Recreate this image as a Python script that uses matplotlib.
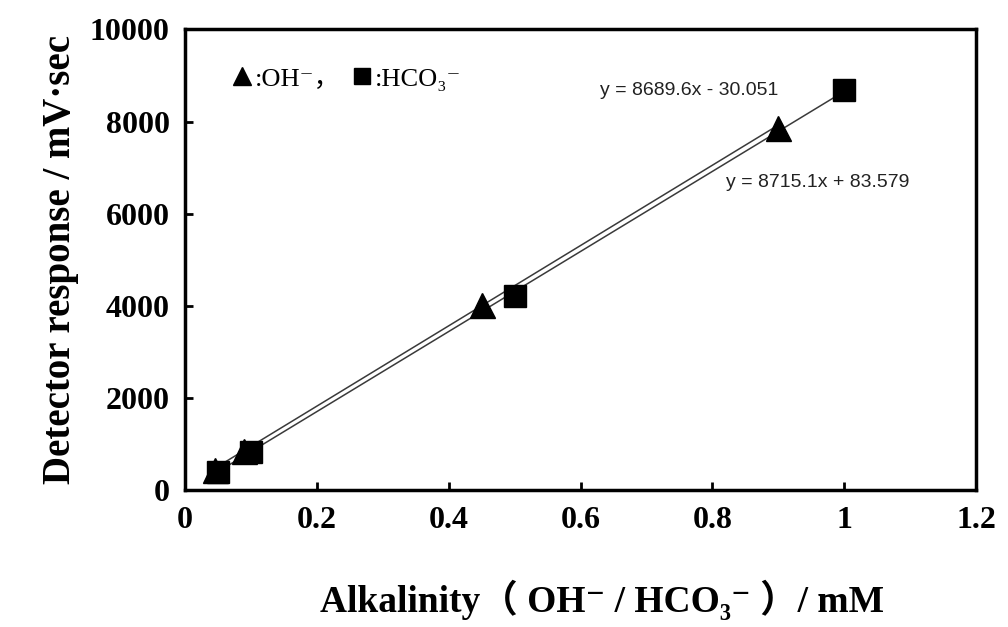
import matplotlib.pyplot as plt
import numpy as np

# datos
oh_x = [0.045, 0.09, 0.45, 0.9]
oh_y = [430, 860, 4020, 7870]
hco3_x = [0.05, 0.1, 0.5, 1.0]
hco3_y = [400, 840, 4220, 8690]

# ecuaciones de las rectas de ajuste (texto del grafico)
oh_fit = (8715.1, 83.579)
hco3_fit = (8689.6, -30.051)
oh_eq = "y = 8715.1x + 83.579"
hco3_eq = "y = 8689.6x - 30.051"

x_ticks = [0, 0.2, 0.4, 0.6, 0.8, 1.0, 1.2]
x_ticklabels = ["0", "0.2", "0.4", "0.6", "0.8", "1", "1.2"]
y_ticks = [0, 2000, 4000, 6000, 8000, 10000]

serif = ["Liberation Serif", "Noto Sans CJK JP", "DejaVu Serif"]

fig = plt.figure(figsize=(10.08, 6.27), dpi=100)
ax = fig.add_axes([0.1835, 0.218, 0.785, 0.735])

# rectas de ajuste
xs = np.array([oh_x[0], oh_x[-1]])
ax.plot(xs, oh_fit[0] * xs + oh_fit[1], color="#3a3a3a", lw=1.1, zorder=2)
xs = np.array([hco3_x[0], hco3_x[-1]])
ax.plot(xs, hco3_fit[0] * xs + hco3_fit[1], color="#3a3a3a", lw=1.1, zorder=2)

h1, = ax.plot(oh_x, oh_y, linestyle="none", marker="^", ms=18, color="black", zorder=3)
h2, = ax.plot(hco3_x, hco3_y, linestyle="none", marker="s", ms=16, color="black", zorder=3)

ax.set_xlim(0, 1.2)
ax.set_ylim(0, 10000)
ax.set_xticks(x_ticks)
ax.set_xticklabels(x_ticklabels)
ax.set_yticks(y_ticks)
ax.tick_params(direction="in", length=6, width=2, pad=11)
for lab in ax.get_xticklabels() + ax.get_yticklabels():
    lab.set_family(serif)
    lab.set_fontweight("bold")
    lab.set_fontsize(23)
for sp in ax.spines.values():
    sp.set_linewidth(2.5)

ax.set_xlabel("Alkalinity（ OH⁻ / HCO₃⁻ ）/ mM", family=serif, fontweight="bold",
              fontsize=27)
ax.xaxis.set_label_coords(0.527, -0.195)
ax.set_ylabel("Detector response / mV·sec", family=serif, fontweight="bold",
              fontsize=28, labelpad=8)

ax.legend([h1, h2], [":OH⁻，", ":HCO₃⁻"], ncol=2, frameon=False, loc="upper left",
          bbox_to_anchor=(0.025, 0.97), handletextpad=0.0, columnspacing=0.3,
          markerscale=0.72, handlelength=1.0,
          prop={"family": serif, "size": 19})

ax.text(0.525, 0.867, hco3_eq, transform=ax.transAxes, fontsize=14, va="center",
        family="Liberation Sans", color="#222222")
ax.text(0.684, 0.667, oh_eq, transform=ax.transAxes, fontsize=14, va="center",
        family="Liberation Sans", color="#222222")

fig.savefig("out.png", dpi=100)
